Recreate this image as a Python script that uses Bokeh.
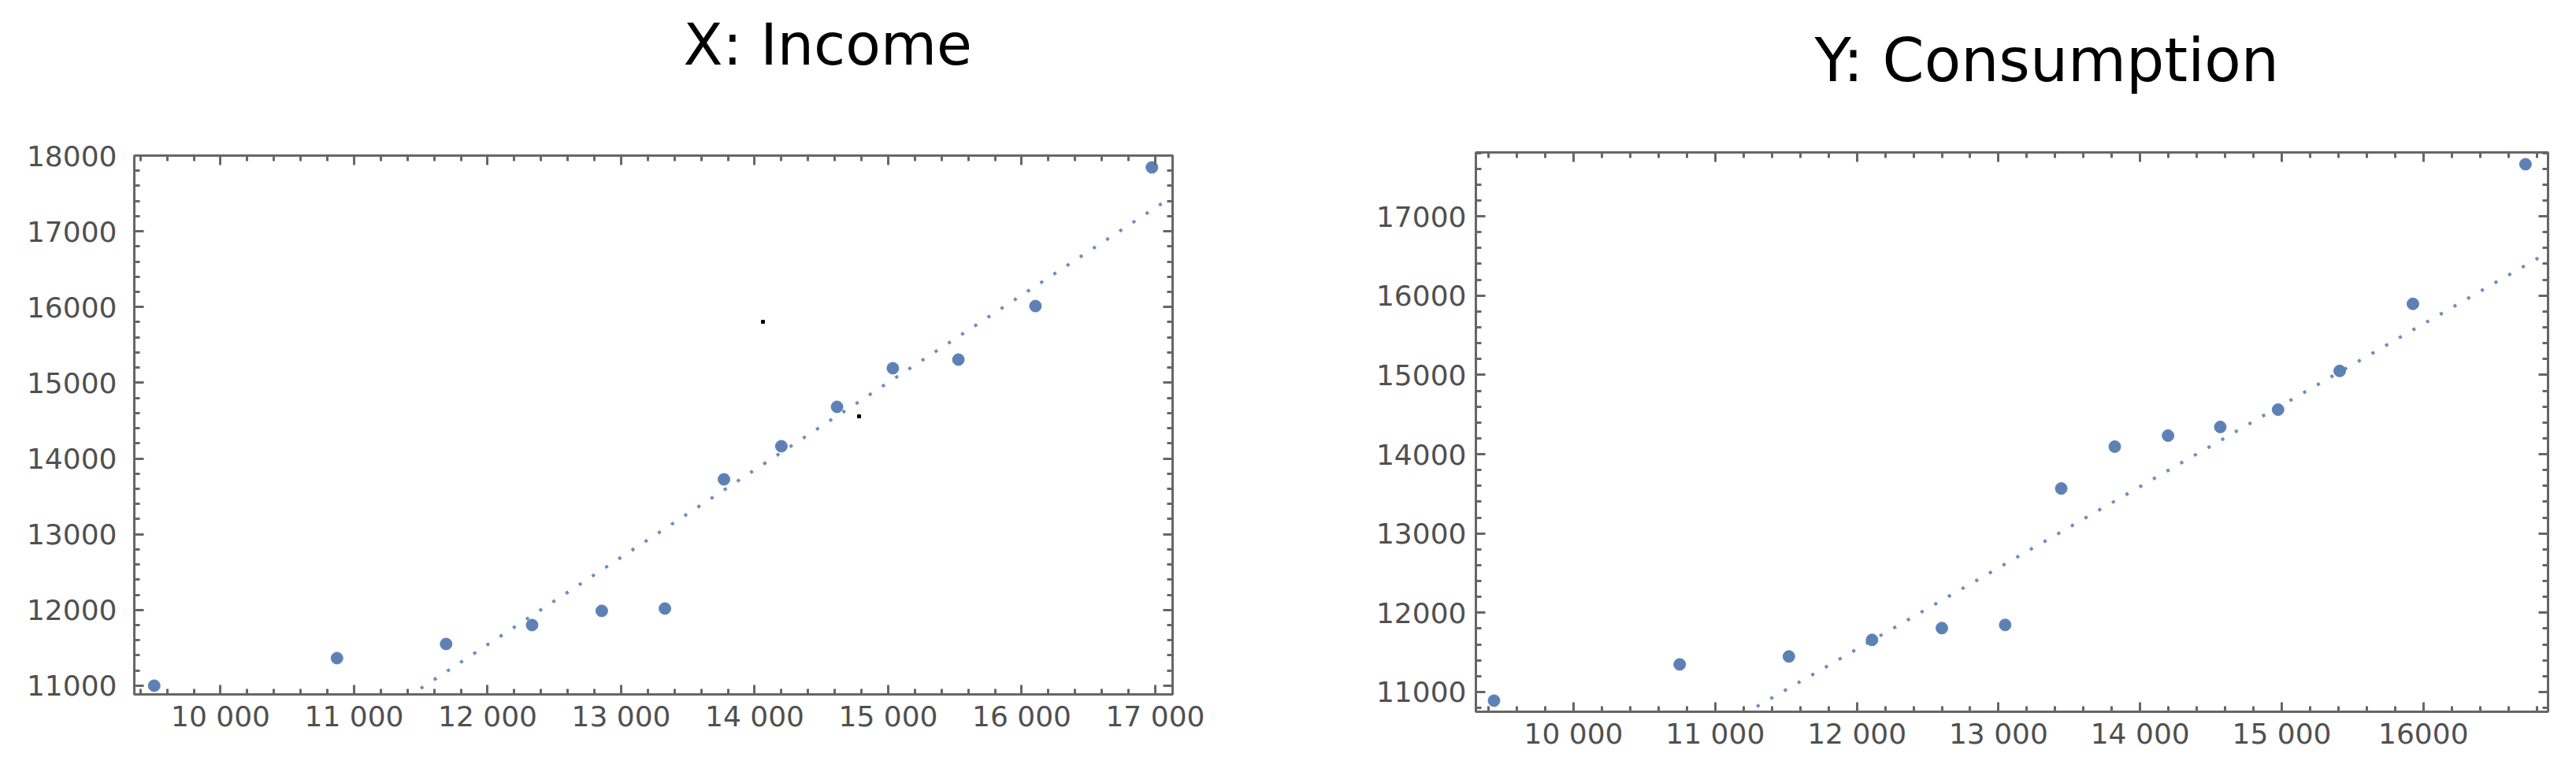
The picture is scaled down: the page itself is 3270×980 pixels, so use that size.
import numpy as np
from bokeh.plotting import figure
from bokeh.layouts import row
from bokeh.models import FixedTicker, LinearAxis, Range1d, CustomJSTickFormatter
from bokeh.embed import file_html
from bokeh.resources import INLINE

# ---------------- data ----------------
left_title = "X: Income"
left_x = [9503, 10872, 11689, 12333, 12855, 13328, 13770, 14200, 14617, 15035, 15526, 16103, 16975]
left_y = [11000, 11364, 11551, 11801, 11988, 12019, 13725, 14162, 14682, 15192, 15306, 16013, 17844]
left_fit_x = [11400, 17200]
left_fit_y = [10850, 17541]
left_marks_x = [14062, 14782]
left_marks_y = [15805, 14557]
left_xticks = [10000, 11000, 12000, 13000, 14000, 15000, 16000, 17000]
left_xlabels = ["10 000", "11 000", "12 000", "13 000", "14 000", "15 000", "16 000", "17 000"]
left_yticks = [11000, 12000, 13000, 14000, 15000, 16000, 17000, 18000]
left_ylabels = ["11000", "12000", "13000", "14000", "15000", "16000", "17000", "18000"]

right_title = "Y: Consumption"
right_x = [9438, 10749, 11520, 12107, 12600, 13047, 13443, 13821, 14197, 14566, 14974, 15409, 15926, 16721]
right_y = [10891, 11348, 11448, 11657, 11806, 11846, 13567, 14095, 14234, 14343, 14562, 15050, 15896, 17657]
right_fit_x = [11100, 17000]
right_fit_y = [10618, 16668]
right_xticks = [10000, 11000, 12000, 13000, 14000, 15000, 16000]
right_xlabels = ["10 000", "11 000", "12 000", "13 000", "14 000", "15 000", "16000"]
right_yticks = [11000, 12000, 13000, 14000, 15000, 16000, 17000]
right_ylabels = ["11000", "12000", "13000", "14000", "15000", "16000", "17000"]

# ---------------- style ----------------
BLUE = "#5E81B5"
FRAME = "#666666"
LABEL = "#505050"
FONT = "DejaVu Sans"


def minor_of(ticks, lo, hi, step=200):
    return [float(v) for v in np.arange(ticks[0] - 1000, ticks[-1] + 1001, step)
            if lo <= v <= hi and v not in ticks]


def style_axis(ax, ticks, minors, labels=None):
    ax.ticker = FixedTicker(ticks=ticks, minor_ticks=minors)
    ax.axis_line_color = None
    ax.major_tick_in = 12
    ax.major_tick_out = 0
    ax.minor_tick_in = 7
    ax.minor_tick_out = 0
    ax.major_tick_line_color = FRAME
    ax.minor_tick_line_color = FRAME
    ax.major_tick_line_width = 3
    ax.minor_tick_line_width = 3
    if labels is None:
        ax.formatter = CustomJSTickFormatter(code="return ''")
        ax.major_label_text_font_size = "0px"
        ax.major_label_text_color = None
        ax.major_label_standoff = 0
    else:
        ax.major_label_overrides = {t: l for t, l in zip(ticks, labels)}
        ax.major_label_text_font = FONT
        ax.major_label_text_font_size = "36px"
        ax.major_label_text_color = LABEL


def make_panel(title, xs, ys, fx, fy, xr, yr, xt, xl, yt, yl, width, height,
               bl, br, bt, bb, toff, tsize, tpad, ystand, xstand):
    p = figure(width=width, height=height, output_backend="svg", toolbar_location=None,
               x_range=Range1d(*xr), y_range=Range1d(*yr),
               min_border_left=bl, min_border_right=br, min_border_top=bt, min_border_bottom=bb,
               x_axis_location=None, y_axis_location=None)
    p.frame_align = False
    p.grid.visible = False
    p.outline_line_color = FRAME
    p.outline_line_width = 3
    p.background_fill_color = "white"
    p.border_fill_color = "white"

    p.title.text = title
    p.title.text_font = FONT
    p.title.text_font_size = tsize
    p.title.text_font_style = "normal"
    p.title.text_color = "black"
    p.title.align = "left"
    p.title.offset = toff
    p.title.padding = dict(top=0, right=0, bottom=tpad, left=0)

    xmin = minor_of(xt, xr[0], xr[1])
    ymin = minor_of(yt, yr[0], yr[1])
    bx = LinearAxis()
    style_axis(bx, xt, xmin, xl)
    bx.major_label_standoff = xstand
    p.add_layout(bx, "below")
    ly = LinearAxis()
    style_axis(ly, yt, ymin, yl)
    ly.major_label_standoff = ystand
    p.add_layout(ly, "left")
    ax = LinearAxis()
    style_axis(ax, xt, xmin)
    p.add_layout(ax, "above")
    ry = LinearAxis()
    style_axis(ry, yt, ymin)
    p.add_layout(ry, "right")

    p.line(fx, fy, line_color=BLUE, line_width=4, line_dash="4 16", line_alpha=0.9)
    p.scatter(xs, ys, size=15, color=BLUE, line_color=BLUE)
    return p


p1 = make_panel(left_title, left_x, left_y, left_fit_x, left_fit_y,
                (9354, 17130), (10885, 18000), left_xticks, left_xlabels, left_yticks, left_ylabels,
                width=1538, height=970, bl=170, br=50, bt=197, bb=89, toff=697,
                tsize="73px", tpad=94, ystand=22, xstand=7)
p1.scatter(left_marks_x, left_marks_y, marker="square", size=4, color="black")

p2 = make_panel(right_title, right_x, right_y, right_fit_x, right_fit_y,
                (9310, 16880), (10751, 17806), right_xticks, right_xlabels, right_yticks, right_ylabels,
                width=1716, height=970, bl=335, br=20, bt=193, bb=67, toff=430,
                tsize="76px", tpad=68, ystand=12, xstand=7)

layout = row(p1, p2)
open("out.html", "w").write(file_html(layout, INLINE))
